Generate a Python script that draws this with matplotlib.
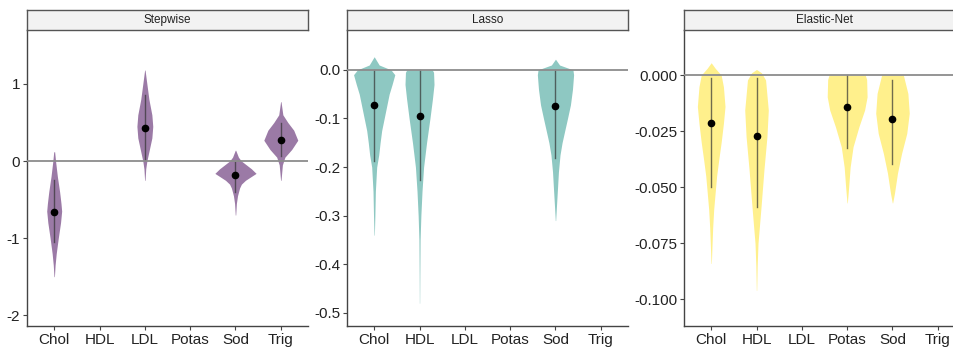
import matplotlib
matplotlib.use("Agg")
import matplotlib.pyplot as plt

plt.rcParams["font.family"] = ["Liberation Sans", "DejaVu Sans"]

categories = ["Chol", "HDL", "LDL", "Potas", "Sod", "Trig"]

# violin outlines: (y values, half-width in category units)
stepwise_profiles = {
    "Chol": ([0.12, 0.0, -0.2, -0.4, -0.55, -0.65, -0.8, -1.0, -1.2, -1.35, -1.5],
             [0.01, 0.03, 0.07, 0.12, 0.15, 0.165, 0.14, 0.09, 0.045, 0.02, 0.005]),
    "LDL": ([1.18, 1.0, 0.8, 0.6, 0.45, 0.3, 0.15, 0.0, -0.1, -0.25],
            [0.005, 0.045, 0.09, 0.155, 0.175, 0.155, 0.1, 0.045, 0.02, 0.005]),
    "Sod": ([0.14, 0.05, 0.0, -0.05, -0.1, -0.16, -0.2, -0.25, -0.3, -0.35, -0.45, -0.55, -0.7],
            [0.005, 0.065, 0.13, 0.24, 0.35, 0.455, 0.35, 0.22, 0.13, 0.09, 0.045, 0.02, 0.005]),
    "Trig": ([0.77, 0.6, 0.5, 0.4, 0.27, 0.15, 0.05, -0.05, -0.25],
             [0.005, 0.045, 0.155, 0.285, 0.375, 0.24, 0.09, 0.035, 0.005]),
}
stepwise_point = {"Chol": -0.66, "LDL": 0.43, "Sod": -0.18, "Trig": 0.27}
stepwise_interval = {"Chol": (-1.05, -0.25), "LDL": (0.01, 0.86),
                     "Sod": (-0.40, -0.01), "Trig": (0.06, 0.49)}

lasso_profiles = {
    "Chol": ([0.027, 0.01, 0.0, -0.01, -0.03, -0.05, -0.075, -0.1, -0.125, -0.15, -0.175, -0.2, -0.25, -0.3, -0.34],
             [0.0, 0.11, 0.37, 0.455, 0.395, 0.33, 0.275, 0.22, 0.165, 0.13, 0.1, 0.055, 0.026, 0.015, 0.004]),
    "HDL": ([0.0, -0.005, -0.03, -0.06, -0.1, -0.15, -0.2, -0.25, -0.3, -0.35, -0.42, -0.48],
            [0.28, 0.31, 0.32, 0.285, 0.23, 0.155, 0.09, 0.055, 0.03, 0.013, 0.007, 0.003]),
    "Sod": ([0.022, 0.01, 0.0, -0.01, -0.04, -0.072, -0.1, -0.127, -0.15, -0.175, -0.21, -0.243, -0.28, -0.31],
            [0.0, 0.09, 0.385, 0.4, 0.375, 0.33, 0.265, 0.2, 0.145, 0.1, 0.065, 0.045, 0.022, 0.004]),
}
lasso_point = {"Chol": -0.072, "HDL": -0.094, "Sod": -0.075}
lasso_interval = {"Chol": (-0.187, 0.0), "HDL": (-0.226, 0.0), "Sod": (-0.182, 0.0)}

enet_profiles = {
    "Chol": ([0.0055, 0.003, 0.0, -0.0052, -0.014, -0.0215, -0.03, -0.038, -0.045, -0.053, -0.06, -0.068, -0.076, -0.084],
             [0.0, 0.09, 0.22, 0.27, 0.305, 0.27, 0.22, 0.165, 0.12, 0.085, 0.055, 0.033, 0.018, 0.004]),
    "HDL": ([0.0025, 0.001, -0.0022, -0.0156, -0.0275, -0.042, -0.0587, -0.067, -0.075, -0.085, -0.096],
            [0.0, 0.11, 0.2, 0.26, 0.23, 0.165, 0.1, 0.066, 0.033, 0.015, 0.004]),
    "Potas": ([0.0, -0.002, -0.0097, -0.0156, -0.023, -0.032, -0.041, -0.05, -0.057],
              [0.40, 0.43, 0.44, 0.385, 0.26, 0.13, 0.066, 0.033, 0.004]),
    "Sod": ([0.0, -0.0082, -0.017, -0.026, -0.035, -0.0438, -0.0527, -0.057],
            [0.24, 0.34, 0.37, 0.315, 0.2, 0.11, 0.044, 0.004]),
}
enet_point = {"Chol": -0.0215, "HDL": -0.027, "Potas": -0.0144, "Sod": -0.0195}
enet_interval = {"Chol": (-0.050, -0.0015), "HDL": (-0.0587, -0.0015),
                 "Potas": (-0.0327, 0.0), "Sod": (-0.0397, -0.0022)}

stepwise_ticks = [-2, -1, 0, 1]
stepwise_ticklabels = ["-2", "-1", "0", "1"]
lasso_ticks = [-0.5, -0.4, -0.3, -0.2, -0.1, 0.0]
lasso_ticklabels = ["-0.5", "-0.4", "-0.3", "-0.2", "-0.1", "0.0"]
enet_ticks = [-0.1, -0.075, -0.05, -0.025, 0.0]
enet_ticklabels = ["-0.100", "-0.075", "-0.050", "-0.025", "0.000"]

panels = [
    ("Stepwise", stepwise_profiles, stepwise_point, stepwise_interval,
     stepwise_ticks, stepwise_ticklabels, (-2.14, 1.70), "#9b7aa6"),
    ("Lasso", lasso_profiles, lasso_point, lasso_interval,
     lasso_ticks, lasso_ticklabels, (-0.527, 0.082), "#8ec8c2"),
    ("Elastic-Net", enet_profiles, enet_point, enet_interval,
     enet_ticks, enet_ticklabels, (-0.1119, 0.0201), "#fff08c"),
]

W, H = 954, 347
fig = plt.figure(figsize=(W / 100, H / 100), dpi=100)

lefts = [27, 347, 684]
width = 281
top, bottom = 30, 326

for left, (title, profiles, points, intervals, ticks, ticklabels, ylim, color) in zip(lefts, panels):
    ax = fig.add_axes([left / W, (H - bottom) / H, width / W, (bottom - top) / H])
    for i, cat in enumerate(categories):
        x = i + 1
        if cat not in profiles:
            continue
        ys, ws = profiles[cat]
        ax.fill_betweenx(ys, [x - w for w in ws], [x + w for w in ws],
                         color=color, linewidth=0, zorder=2)
        lo, hi = intervals[cat]
        ax.plot([x, x], [lo, hi], color="#333333", alpha=0.7, lw=1.0, zorder=3)
        ax.plot(x, points[cat], "o", color="black", ms=4.5, zorder=4)
    ax.axhline(0, color="#8c8c8c", lw=1.3, zorder=3)

    ax.set_xlim(0.4, 6.6)
    ax.set_ylim(*ylim)
    ax.set_xticks(range(1, 7), categories)
    ax.set_yticks(ticks, ticklabels)
    for s in ["top", "right"]:
        ax.spines[s].set_visible(False)
    for s in ["left", "bottom"]:
        ax.spines[s].set_color("#444444")
        ax.spines[s].set_linewidth(1.0)
    ax.tick_params(axis="both", colors="#444444", length=3, width=0.8,
                   labelsize=11, labelcolor="#222222", pad=2)

    sax = fig.add_axes([left / W, (H - top) / H, width / W, 20 / H])
    sax.set_xticks([])
    sax.set_yticks([])
    sax.set_facecolor("#f2f2f2")
    for s in sax.spines.values():
        s.set_color("#555555")
        s.set_linewidth(1.0)
    sax.text(0.5, 0.5, title, transform=sax.transAxes, ha="center", va="center",
             fontsize=8.5, color="#222222")

fig.savefig("out.png", dpi=100)
